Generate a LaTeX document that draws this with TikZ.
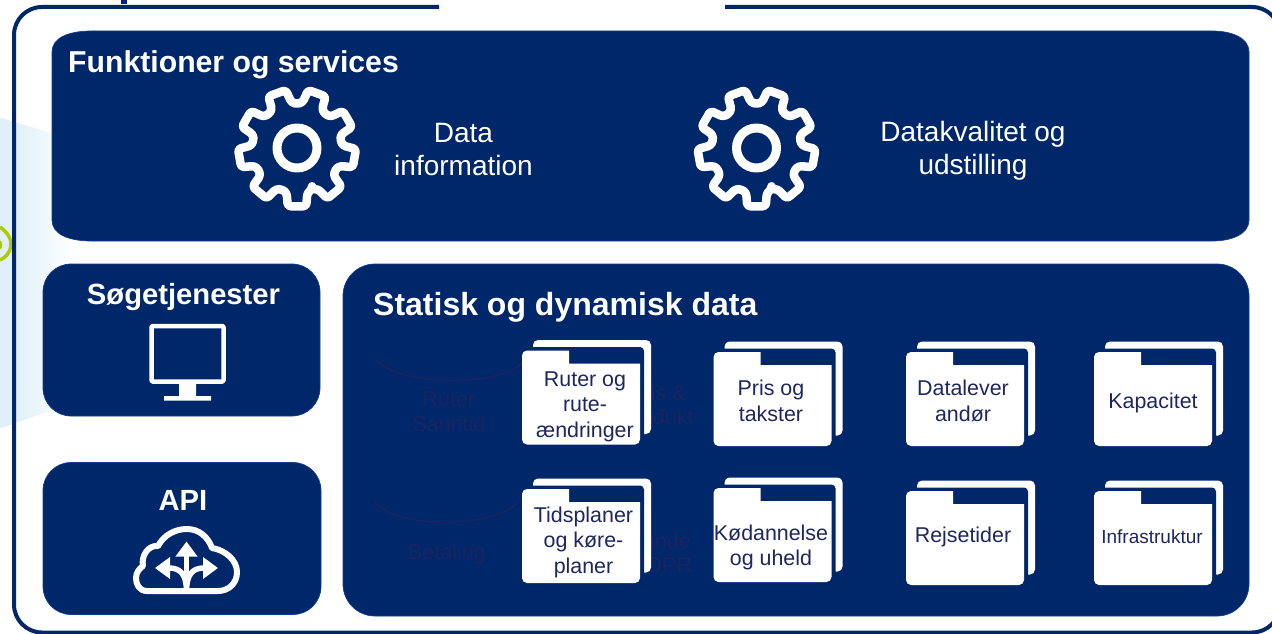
\documentclass[tikz,border=0pt]{standalone}
\usepackage{fontspec}
\setmainfont{Liberation Sans}
\usetikzlibrary{arrows.meta}
\definecolor{navy}{HTML}{00276A}
\definecolor{panelrim}{HTML}{123F8C}
\definecolor{foldertxt}{HTML}{1F2661}
\definecolor{hiddentxt}{HTML}{1A2463}
\definecolor{haze}{HTML}{DFF0FA}
\definecolor{swirl}{HTML}{B4C800}
\begin{document}
\begin{tikzpicture}[
  x = 1pt, y = -1pt,
  panel/.style={fill=navy, draw=panelrim, line width=0.7pt},
  boxed/.style={panel, rounded corners=28pt, inner sep=0pt},
  title/.style={text=white, inner sep=0pt, font=\bfseries\fontsize{30.2}{33}\selectfont},
  large title/.style={title, font=\bfseries\fontsize{32}{35}\selectfont},
  small title/.style={title, font=\bfseries\fontsize{29.2}{32}\selectfont},
  service/.style={text=white, inner sep=0pt, align=center, font=\fontsize{28}{32.5}\selectfont},
  foldertext/.style={text=foldertxt, inner sep=0pt, align=center, font=\fontsize{21.4}{25.5}\selectfont},
  hiddentext/.style={text=hiddentxt, inner sep=0pt, align=center, font=\fontsize{21.5}{24.5}\selectfont},
  hiddenline/.style={draw=hiddentxt, line width=1.6pt},
  icon/.style={draw=white, line width=6pt, line join=round},
  branch/.style={draw=white, line width=5.5pt, -{Triangle[width=21pt, length=15pt]}}]
\useasboundingbox (0,0) rectangle (1272,634);
% backdrop on the left, fading out from the right
\foreach \hx in {76,72,...,16} {
  \pgfmathsetmacro\hmix{100*(78-\hx)/62}
  \fill[haze!\hmix!white] (0,118) -- (\hx,118+0.3*\hx) -- (\hx,428-0.35*\hx) -- (0,428) -- cycle;
}
\draw[swirl, line width=3.5pt] (0,227) .. controls (7,232) and (12,239) .. (11,246) .. controls (10,253) and (5,258) .. (0,260);
\draw[swirl, line width=2pt] (0,241) .. controls (1.5,243) and (1.5,247) .. (0,249);
\fill[navy!90!blue] (121,0) rectangle (127,4);
% outer frame, open at the top
\draw[navy, line width=4pt, rounded corners=28pt] (439,7) -- (14,7) -- (14,632.5) -- (1280,632.5) -- (1280,7) -- (725,7);
% panels
\draw[panel] (52,52) .. controls (52,38) and (68,31) .. (92,31) -- (1212,31)
  .. controls (1232,31) and (1249,38) .. (1249,52) -- (1249,220)
  .. controls (1249,234) and (1232,241) .. (1212,241) -- (92,241)
  .. controls (68,241) and (52,234) .. (52,220) -- cycle;
\node[boxed, minimum width=277pt, minimum height=152pt] (search) at (181.5,340) {};
\node[boxed, minimum width=278pt, minimum height=152pt] (api) at (182,538.5) {};
\node[boxed, rounded corners=32pt, minimum width=906pt, minimum height=352pt] (data) at (796,440) {};
% titles
\node[title, anchor=base west] (functions) at (68,72.5) {Funktioner og services};
\node[large title, anchor=base west] (datatitle) at (373,315.5) {Statisk og dynamisk data};
\node[small title, anchor=base] (searchtitle) at (183.5,304) {Søgetjenester};
\node[small title, anchor=base] (apititle) at (183,510) {API};
\node[service] (datainfo) at (463.5,149.5) {Data\\information};
\node[service] (quality) at (973,151) {Datakvalitet og\\udstilling};
% gears
\foreach \gx in {297,756.5} {
  \begin{scope}[shift={(\gx,148)}]
    \draw[icon, line width=8.5pt, rounded corners=3pt] (70:44)
      foreach \a in {90,130,...,410} {
        -- (\a+20-33:46) -- (\a+20-29:59) -- (\a+20-11:59) -- (\a+20-7:46) -- (\a+20:44)
      } -- cycle;
    \draw[icon, line width=9pt] (0,0) circle (20);
  \end{scope}
}
% screen
\draw[icon, line width=4.5pt, rounded corners=1pt] (151.5,326) rectangle (223.5,381.5);
\fill[white] (179,383) rectangle (196,397) (164,396) rectangle (211,400.5);
% cloud
\draw[icon] (147,591) .. controls (139,591) and (136,584) .. (136,578)
  .. controls (136,572) and (140,568) .. (143,566)
  .. controls (141,556) and (148,545) .. (158,546)
  .. controls (164,535) and (175,529) .. (187,529)
  .. controls (199,529) and (208,537) .. (212,548)
  .. controls (225,550) and (237,560) .. (237,572)
  .. controls (237,584) and (228,591) .. (218,591) -- cycle;
\draw[branch] (186.5,591) -- (186.5,541.5);
\draw[branch] (186.5,591) .. controls (186.5,574) and (180,568) .. (155,568);
\draw[branch] (186.5,591) .. controls (186.5,574) and (193,568) .. (218,568);
% text that sits behind the folders
\draw[hiddenline] (376,359) .. controls (395,387) and (505,387) .. (522,362);
\draw[hiddenline] (375,502) .. controls (395,529) and (495,529) .. (518,502);
\node[hiddentext] (realtime) at (449,411.5) {Ruter\\Sanntid};
\node[hiddentext] (product) at (658,407) {Pris \&\\produkt};
\node[hiddentext] (payment) at (447,553.5) {Betaling};
\node[hiddentext] (gdpr) at (661,553) {Lande\\GDPR};
% folders
\foreach \fx/\fy in {522/350.5, 713.5/352, 906/352, 1094/352, 522/489, 713.5/488, 906/491, 1094/491} {
  \begin{scope}[shift={(\fx,\fy)}]
    \fill[white, rounded corners=5pt] (11,60) -- (11,-10.5) -- (129,-10.5) -- (129,83.5) -- (60,83.5) -- cycle;
    \fill[navy, rounded corners=4pt] (6,100) -- (6,-3.5) -- (122,-3.5) -- (122,100) -- cycle;
    \fill[white, rounded corners=5pt] (0,94) -- (0,0) -- (20,0) [sharp corners] -- (47,0) -- (47,13) -- (118,13) -- (118,60) [rounded corners=5pt] -- (118,94) -- cycle;
  \end{scope}
}
\node[foldertext] (routes) at (585,406.5) {Ruter og\\rute-\\ændringer};
\node[foldertext] (prices) at (771,401) {Pris og\\takster};
\node[foldertext] (suppliers) at (963,401) {Datalever\\andør};
\node[foldertext] (capacity) at (1153,403) {Kapacitet};
\node[foldertext] (timetables) at (583.5,542) {Tidsplaner\\og køre-\\planer};
\node[foldertext] (queues) at (771,547.5) {Kødannelse\\og uheld};
\node[foldertext] (traveltimes) at (963,537) {Rejsetider};
\node[foldertext, font=\fontsize{19}{22}\selectfont] (infra) at (1152,537) {Infrastruktur};
\end{tikzpicture}
\end{document}
